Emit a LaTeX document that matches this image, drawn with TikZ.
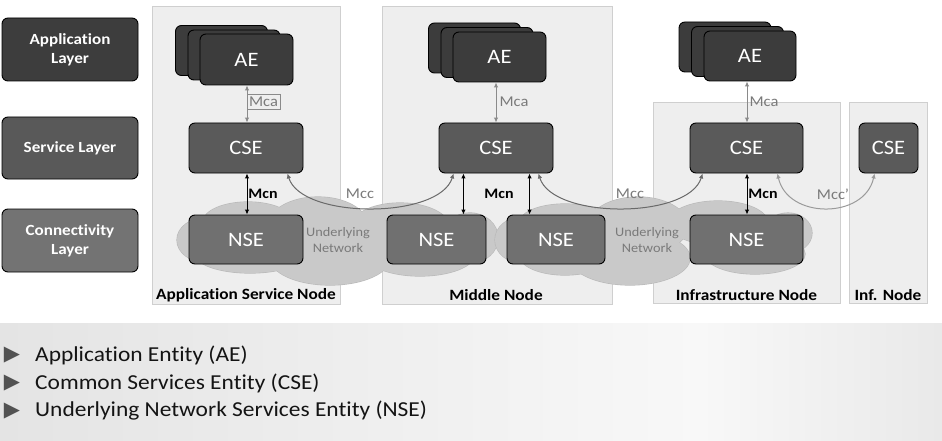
\documentclass[tikz,border=0pt]{standalone}
\usepackage{fontspec}
\setmainfont{Carlito}[FakeStretch=1.1, Ligatures=NoCommon]
\newfontfamily\symfont{DejaVu Sans}
\usetikzlibrary{arrows.meta,calc}
\definecolor{applayer}{HTML}{3D3D3D}
\definecolor{servlayer}{HTML}{595959}
\definecolor{connlayer}{HTML}{737373}
\definecolor{aecol}{HTML}{3C3C3C}
\definecolor{csecol}{HTML}{5A5A5A}
\definecolor{nsecol}{HTML}{707070}
\definecolor{panelfill}{HTML}{EEEEEE}
\definecolor{panelborder}{HTML}{CFCFCF}
\definecolor{cloudfill}{HTML}{C9C9C9}
\definecolor{cloudborder}{HTML}{B9B9B9}
\definecolor{mcagray}{HTML}{8A8A8A}
\definecolor{mccgray}{HTML}{6A6A6A}
\definecolor{mccpgray}{HTML}{9A9A9A}
\definecolor{labgray}{HTML}{7A7A7A}
\definecolor{bgleft}{HTML}{E4E4E4}
\definecolor{bgmid}{HTML}{F8F8F8}
\definecolor{bgright}{HTML}{E9E9E9}
\tikzset{
  box/.style={draw=black, line width=0.9pt, rounded corners=6pt, inner sep=0pt, text=white, font=\fontsize{20.5}{22}\selectfont},
  layerbox/.style={box, minimum width=136pt, minimum height=63pt, align=center, font=\bfseries\fontsize{15.5}{19}\selectfont},
  aebox/.style={box, fill=aecol, minimum width=92pt, minimum height=50pt},
  csebox/.style={box, fill=csecol, minimum height=50pt},
  nsebox/.style={box, fill=nsecol, minimum height=49pt},
  panel/.style={draw=panelborder, fill=panelfill, line width=0.8pt, anchor=north west, inner sep=0pt},
  panellabel/.style={font=\bfseries\fontsize{15.7}{18}\selectfont, text=black},
  puffline/.style={draw=cloudborder, line width=1.2pt},
  pufffill/.style={fill=cloudfill},
  nettext/.style={font=\fontsize{13}{16}\selectfont, text=labgray, align=center},
  tip/.style={{Latex[length=5pt,width=4.5pt]}-{Latex[length=5pt,width=4.5pt]}},
  mcaarr/.style={tip, draw=mcagray, line width=1pt},
  mcnarr/.style={tip, draw=black, line width=1pt},
  mccarr/.style={tip, draw=mccgray, line width=1pt},
  mccparr/.style={tip, draw=mccpgray, line width=1pt},
  mcalab/.style={font=\fontsize{15}{16}\selectfont, text=labgray},
  mcnlab/.style={font=\bfseries\fontsize{14.5}{16}\selectfont, text=black},
  mcclab/.style={font=\fontsize{15}{16}\selectfont, text=labgray},
  bullet/.style={font=\symfont\fontsize{21}{21}\selectfont, text=black!68, inner sep=0pt},
  itemtext/.style={font=\fontsize{21.3}{24}\selectfont, text=black!92, anchor=west, inner sep=0pt}
}
\newcommand{\cloudA}[1]{%
  \path[#1] (205,240) ellipse [x radius=28, y radius=22];
  \path[#1] (248,222) ellipse [x radius=45, y radius=20];
  \path[#1] (318,226) ellipse [x radius=50, y radius=29];
  \path[#1] (330,258) ellipse [x radius=60, y radius=27];
  \path[#1] (400,228) ellipse [x radius=50, y radius=25];
  \path[#1] (420,254) ellipse [x radius=55, y radius=22];
  \path[#1] (470,238) ellipse [x radius=28, y radius=25];
  \path[#1] (250,254) ellipse [x radius=55, y radius=19];
}
\newcommand{\cloudB}[1]{%
  \path[#1] (522,240) ellipse [x radius=27, y radius=23];
  \path[#1] (565,222) ellipse [x radius=45, y radius=18];
  \path[#1] (638,226) ellipse [x radius=50, y radius=29];
  \path[#1] (630,258) ellipse [x radius=60, y radius=27];
  \path[#1] (718,223) ellipse [x radius=50, y radius=22];
  \path[#1] (755,254) ellipse [x radius=50, y radius=20];
  \path[#1] (788,233) ellipse [x radius=24, y radius=20];
  \path[#1] (565,256) ellipse [x radius=45, y radius=19];
}
\begin{document}
\begin{tikzpicture}[x=1pt,y=-1pt]
\useasboundingbox (0,0) rectangle (942,441);
\fill[white] (0,0) rectangle (942,441);
% bottom background
\shade[left color=bgleft, right color=bgmid] (0,323) rectangle (700,441);
\shade[left color=bgmid, right color=bgright] (699.5,323) rectangle (942,441);

% layer boxes
\node[layerbox, fill=applayer] (applay) at (70,49.5) {Application\\Layer};
\node[layerbox, fill=servlayer, minimum height=62pt] (servlay) at (70,148) {Service Layer};
\node[layerbox, fill=connlayer] (connlay) at (70,240.5) {Connectivity\\Layer};

% panels
\node[panel, minimum width=188pt, minimum height=298pt] (asnp) at (152,6) {};
\node[panel, minimum width=230pt, minimum height=298pt] (midp) at (382,6) {};
\node[panel, minimum width=187pt, minimum height=201pt] (infp) at (653,102) {};
\node[panel, minimum width=78pt, minimum height=201pt] (infnp) at (849,102) {};

% clouds (underlying networks)
\cloudA{puffline}
\cloudA{pufffill}
\cloudB{puffline}
\cloudB{pufffill}
\node[nettext] (netA) at (338,240) {Underlying\\Network};
\node[nettext] (netB) at (647,240) {Underlying\\Network};

% AE stacks
\node[aebox] (asnae3) at (221.5,50.5) {};
\node[aebox] (asnae2) at (234,55) {};
\node[aebox, minimum width=93pt, minimum height=51pt] (asnae) at (246.5,59.5) {AE};
\node[aebox] (midae3) at (474.5,48) {};
\node[aebox] (midae2) at (487,52.5) {};
\node[aebox, minimum width=93pt] (midae) at (499.5,57) {AE};
\node[aebox] (infae3) at (725,47) {};
\node[aebox] (infae2) at (737.5,51.5) {};
\node[aebox] (infae) at (750,56) {AE};

% CSEs
\node[csebox, minimum width=114pt] (asncse) at (246,148) {CSE};
\node[csebox, minimum width=114pt] (midcse) at (496,148) {CSE};
\node[csebox, minimum width=113pt] (infcse) at (746.5,148) {CSE};
\node[csebox, minimum width=59pt] (innodecse) at (888.5,148) {CSE};

% NSEs
\node[nsebox, minimum width=114pt] (asnnse) at (246,239.5) {NSE};
\node[nsebox, minimum width=99pt] (midnsel) at (436.5,239.5) {NSE};
\node[nsebox, minimum width=98pt] (midnser) at (556,239.5) {NSE};
\node[nsebox, minimum width=113pt] (infnse) at (746.5,239.5) {NSE};

% panel labels
\node[panellabel] (asnlab) at (246,295) {Application Service Node};
\node[panellabel] (midlab) at (496,295) {Middle Node};
\node[panellabel] (inflab) at (746.5,295) {Infrastructure Node};
\node[panellabel] (innlab) at (888,295) {Inf. Node};

% Mca
\coordinate (a1) at ([xshift=1pt]asncse.north);
\draw[mcaarr] (a1 |- asnae.south) -- (a1);
\node[mcalab, draw=mcagray, line width=0.8pt, inner sep=1pt, minimum width=33pt, minimum height=15pt] (mcaA) at (263.5,102) {Mca};
\draw[mcaarr] (midcse.north |- midae.south) -- (midcse.north);
\node[mcalab] (mcaB) at (514,102) {Mca};
\coordinate (a3) at ([xshift=0.5pt]infcse.north);
\draw[mcaarr] (a3 |- infae.south) -- (a3);
\node[mcalab] (mcaC) at (764,102) {Mca};

% Mcn
\coordinate (n1) at ([xshift=1pt]asnnse.north);
\draw[mcnarr] (n1 |- asncse.south) -- (n1);
\node[mcnlab] (mcnA) at (263,194) {Mcn};
\coordinate (n2) at ([xshift=-23pt]midnsel.north east);
\draw[mcnarr] (n2 |- midcse.south) -- (n2);
\coordinate (n3) at ([xshift=23pt]midnser.north west);
\draw[mcnarr] (n3 |- midcse.south) -- (n3);
\node[mcnlab] (mcnB) at (499,194) {Mcn};
\coordinate (n4) at ([xshift=0.5pt]infnse.north);
\draw[mcnarr] (n4 |- infcse.south) -- (n4);
\node[mcnlab] (mcnC) at (763,194) {Mcn};

% Mcc
\coordinate (c1a) at ([xshift=-16pt]asncse.south east);
\coordinate (c1b) at ([xshift=15pt]midcse.south west);
\draw[mccarr] (c1a) .. controls ($(c1a)+(14,46)$) and ($(c1b)+(-14,46)$) .. (c1b);
\node[mcclab] (mccA) at (360,194) {Mcc};
\coordinate (c2a) at ([xshift=-15pt]midcse.south east);
\coordinate (c2b) at ([xshift=13pt]infcse.south west);
\draw[mccarr] (c2a) .. controls ($(c2a)+(14,46)$) and ($(c2b)+(-14,46)$) .. (c2b);
\node[mcclab] (mccB) at (630,194) {Mcc};
\coordinate (c3a) at ([xshift=-26pt]infcse.south east);
\coordinate (c3b) at ([xshift=16pt]innodecse.south west);
\draw[mccparr] (c3a) .. controls ($(c3a)+(10,46)$) and ($(c3b)+(-10,46)$) .. (c3b);
\node[mcclab] (mccC) at (833,194) {Mcc’};

% bullet list
\node[bullet] (b1) at (12,355) {▶};
\node[itemtext] (t1) at (35,355) {Application Entity (AE)};
\node[bullet] (b2) at (12,383) {▶};
\node[itemtext] (t2) at (35,383) {Common Services Entity (CSE)};
\node[bullet] (b3) at (12,411) {▶};
\node[itemtext] (t3) at (35,411) {Underlying Network Services Entity (NSE)};
\end{tikzpicture}
\end{document}
